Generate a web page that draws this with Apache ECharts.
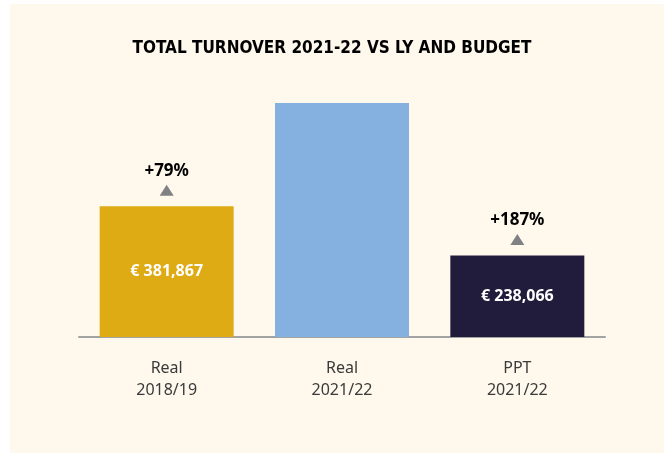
<!DOCTYPE html>
<html>
<head>
<meta charset="utf-8">
<script src="https://cdn.jsdelivr.net/npm/echarts@6/dist/echarts.min.js"></script>
<style>
  html, body { margin: 0; padding: 0; background: #ffffff; }
  #chart { width: 664px; height: 453px; }
</style>
</head>
<body>
<div id="chart"></div>
<script>
// Turnover per period (EUR)
const categories = ['Real\n2018/19', 'Real\n2021/22', 'PPT\n2021/22'];
const turnover = [381867, 683400, 238066];
const barLabels = ['€ 381,867', '', '€ 238,066'];
// Growth of 2021/22 versus each comparison bar
const growthLabels = ['+79%', null, '+187%'];
const barColors = ['#dfab14', '#84b1df', '#211c3b'];

const chart = echarts.init(document.getElementById('chart'));

const barData = turnover.map((v, i) => ({
  value: v,
  itemStyle: { color: barColors[i] },
  label: { show: !!barLabels[i], formatter: barLabels[i] }
}));

const markerData = turnover.map((v, i) => growthLabels[i] ? {
  value: v,
  label: { formatter: growthLabels[i] }
} : null);

chart.setOption({
  animation: false,
  backgroundColor: '#ffffff',
  graphic: [{
    type: 'rect',
    z: -10,
    shape: { x: 10, y: 4, width: 654, height: 449 },
    style: { fill: '#fef8ed' }
  }],
  title: {
    text: 'TOTAL TURNOVER 2021-22 VS LY AND BUDGET',
    left: 'center',
    top: 35,
    textStyle: {
      fontFamily: 'DejaVu Sans Condensed',
      fontWeight: 'bold',
      fontSize: 17,
      color: '#000000'
    }
  },
  grid: { left: 79, right: 59, top: 63, bottom: 116 },
  xAxis: {
    type: 'category',
    data: categories,
    axisLine: { lineStyle: { color: '#a3a3a3', width: 2 } },
    axisTick: { show: false },
    axisLabel: {
      margin: 20,
      fontFamily: 'Noto Sans',
      fontSize: 16,
      lineHeight: 22,
      color: '#3a3a3a'
    }
  },
  yAxis: {
    type: 'value',
    min: 0,
    max: 800000,
    show: false,
    splitLine: { show: false }
  },
  series: [
    {
      type: 'bar',
      data: barData,
      barWidth: 134,
      label: {
        show: true,
        position: 'inside',
        color: '#ffffff',
        fontFamily: 'Noto Sans',
        fontWeight: 'bold',
        fontSize: 16
      }
    },
    {
      type: 'scatter',
      data: markerData,
      symbol: 'triangle',
      symbolSize: [14, 11],
      symbolOffset: [0, -16],
      itemStyle: { color: '#7f8183', opacity: 1 },
      z: 5,
      label: {
        show: true,
        position: 'top',
        distance: 5,
        color: '#000000',
        opacity: 1,
        fontFamily: 'Noto Sans',
        fontWeight: 'bold',
        fontSize: 17
      }
    }
  ]
});
</script>
</body>
</html>
